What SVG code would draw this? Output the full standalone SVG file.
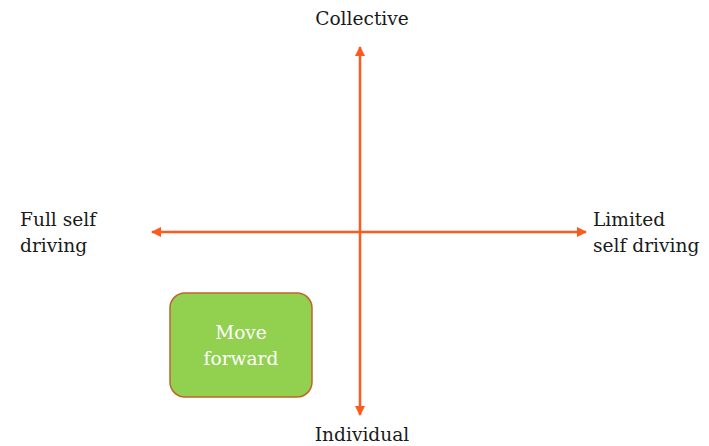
<svg xmlns="http://www.w3.org/2000/svg" width="709" height="446" viewBox="0 0 709 446">
<style>
text{font-family:"DejaVu Serif","Liberation Serif",serif;font-size:18.6px;fill:#1a1a1a}
.ax{stroke:#FC5A1E;stroke-width:2.5;fill:none}
.lbl{fill:#ffffff}
</style>
<defs>
<marker id="ah" viewBox="0 0 10 10" refX="9" refY="5" markerWidth="4.2" markerHeight="4.2" orient="auto-start-reverse" markerUnits="strokeWidth">
<path d="M0,0 L10,5 L0,10 z" fill="#FC5A1E"/>
</marker>
</defs>
<rect width="709" height="446" fill="#ffffff"/>
<g id="connectors">
<line class="ax" x1="360" y1="415" x2="360" y2="47" marker-start="url(#ah)" marker-end="url(#ah)"/>
<line class="ax" x1="152" y1="232" x2="586" y2="232" marker-start="url(#ah)" marker-end="url(#ah)"/>
</g>
<g id="collective"><text x="362" y="25" text-anchor="middle">Collective</text></g>
<g id="individual"><text x="362" y="441" text-anchor="middle">Individual</text></g>
<g id="full"><text x="20" y="226">Full self</text><text x="20" y="252">driving</text></g>
<g id="limited"><text x="593" y="226">Limited</text><text x="593" y="252">self driving</text></g>
<g id="move">
<rect x="170" y="293" width="142" height="104" rx="15" fill="#92D050" stroke="#C0642A" stroke-width="1.5"/>
<text class="lbl" x="241" y="339" text-anchor="middle">Move</text>
<text class="lbl" x="241" y="365" text-anchor="middle">forward</text>
</g>
</svg>
